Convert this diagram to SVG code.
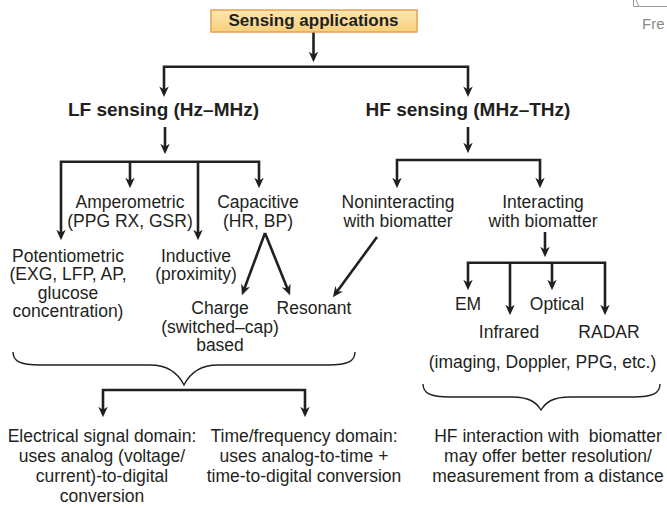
<svg xmlns="http://www.w3.org/2000/svg" width="667" height="508" viewBox="0 0 667 508">
<defs>
<linearGradient id="boxg" x1="0" y1="0" x2="0" y2="1">
<stop offset="0" stop-color="#fde7b3"/>
<stop offset="1" stop-color="#f8cf7a"/>
</linearGradient>
<marker id="ah" viewBox="0 0 10 10" markerUnits="userSpaceOnUse" markerWidth="10.5" markerHeight="10.5" refX="6" refY="5" orient="auto-start-reverse">
<path d="M0,0.5 L10,5 L0,9.5 L3,5 z" fill="#231f20"/>
</marker>
<style>
text{font-family:"Liberation Sans",Arial,sans-serif;fill:#231f20;text-anchor:middle}
.t{font-size:17.5px}
.b{font-size:19px;font-weight:bold}
.c{fill:none;stroke:#231f20;stroke-width:2.6}
.br{fill:none;stroke:#231f20;stroke-width:1.4}
</style>
</defs>
<rect width="667" height="508" fill="#ffffff"/>
<g id="corner">
<path d="M633.5,0 V6.5 H667 M636,0 L639,6.5" fill="none" stroke="#9a9a9a" stroke-width="1"/>
<text x="642" y="29" style="font-size:15px;fill:#8a8a8a;text-anchor:start">Fre</text>
</g>
<g id="connectors">
<line class="c" x1="313.5" y1="32" x2="313.5" y2="58" marker-end="url(#ah)"/>
<path class="c" d="M164,92.7 V66.7 H468 V92.7" marker-start="url(#ah)" marker-end="url(#ah)"/>
<line class="c" x1="165" y1="127" x2="165" y2="150" marker-end="url(#ah)"/>
<path class="c" d="M61,236 V161.7 H259 V184" marker-start="url(#ah)" marker-end="url(#ah)"/>
<line class="c" x1="130" y1="161.7" x2="130" y2="184" marker-end="url(#ah)"/>
<line class="c" x1="198" y1="161.7" x2="198" y2="236" marker-end="url(#ah)"/>
<line class="c" x1="265" y1="233" x2="243.4" y2="291.2" marker-end="url(#ah)"/>
<line class="c" x1="265" y1="233" x2="288.5" y2="291.3" marker-end="url(#ah)"/>
<line class="c" x1="468" y1="127" x2="468" y2="149" marker-end="url(#ah)"/>
<path class="c" d="M397,184 V160 H540 V184" marker-start="url(#ah)" marker-end="url(#ah)"/>
<line class="c" x1="377" y1="237" x2="335.4" y2="293.8" marker-end="url(#ah)"/>
<line class="c" x1="545" y1="232" x2="545" y2="253" marker-end="url(#ah)"/>
<path class="c" d="M468,286 V262.7 H605 V311" marker-start="url(#ah)" marker-end="url(#ah)"/>
<line class="c" x1="510" y1="262.7" x2="510" y2="311" marker-end="url(#ah)"/>
<line class="c" x1="552" y1="262.7" x2="552" y2="286" marker-end="url(#ah)"/>
<path class="br" d="M13,352 C13,361 20,365 40,365 H150 C168,365 178,373 184,385 C190,373 200,365 218,365 H328 C348,365 355,361 355,352"/>
<path class="c" d="M103,413 V390 H305 V413" marker-start="url(#ah)" marker-end="url(#ah)"/>
<path class="br" d="M423,384 C423,393 430,397 450,397 H512 C529,397 536,402 541,410 C546,402 553,397 570,397 H633 C653,397 660,393 660,384"/>
</g>
<g id="root">
<rect x="211" y="10" width="206" height="22" fill="url(#boxg)" stroke="#e6a24c" stroke-width="1.5"/>
<text x="313.5" y="26" style="font-size:17px;font-weight:bold">Sensing applications</text>
</g>
<g id="lf"><text class="b" x="163.5" y="116">LF sensing (Hz–MHz)</text></g>
<g id="hf"><text class="b" x="468" y="116">HF sensing (MHz–THz)</text></g>
<g id="amperometric"><text class="t" x="130" y="208">Amperometric</text><text class="t" x="130" y="227">(PPG RX, GSR)</text></g>
<g id="capacitive"><text class="t" x="258" y="208">Capacitive</text><text class="t" x="258" y="227">(HR, BP)</text></g>
<g id="potentiometric"><text class="t" x="68" y="261.5">Potentiometric</text><text class="t" x="68" y="280">(EXG, LFP, AP,</text><text class="t" x="68" y="298.5">glucose</text><text class="t" x="68" y="317">concentration)</text></g>
<g id="inductive"><text class="t" x="196" y="261.5">Inductive</text><text class="t" x="196" y="280">(proximity)</text></g>
<g id="charge"><text class="t" x="220" y="314">Charge</text><text class="t" x="220" y="332.5">(switched–cap)</text><text class="t" x="220" y="351">based</text></g>
<g id="resonant"><text class="t" x="314" y="314">Resonant</text></g>
<g id="noninteracting"><text class="t" x="398" y="208">Noninteracting</text><text class="t" x="398" y="227">with biomatter</text></g>
<g id="interacting"><text class="t" x="543" y="208">Interacting</text><text class="t" x="543" y="227">with biomatter</text></g>
<g id="em"><text class="t" x="468" y="310">EM</text></g>
<g id="optical"><text class="t" x="557" y="310">Optical</text></g>
<g id="infrared"><text class="t" x="509" y="338">Infrared</text></g>
<g id="radar"><text class="t" x="609" y="338">RADAR</text></g>
<g id="hfnote"><text class="t" x="542.5" y="367.5">(imaging, Doppler, PPG, etc.)</text></g>
<g id="electrical"><text class="t" x="102" y="441.7">Electrical signal domain:</text><text class="t" x="102" y="461.7">uses analog (voltage/</text><text class="t" x="102" y="481.7">current)-to-digital</text><text class="t" x="102" y="501.5">conversion</text></g>
<g id="timefreq"><text class="t" x="304" y="441.7">Time/frequency domain:</text><text class="t" x="304" y="461.7">uses analog-to-time +</text><text class="t" x="304" y="481.7">time-to-digital conversion</text></g>
<g id="hfinteraction"><text class="t" x="548" y="441.7" xml:space="preserve">HF interaction with  biomatter</text><text class="t" x="548" y="461.7">may offer better resolution/</text><text class="t" x="548" y="481.7">measurement from a distance</text></g>
</svg>
